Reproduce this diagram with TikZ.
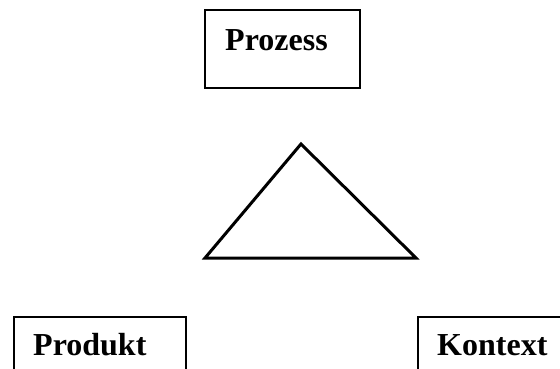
\documentclass[tikz,border=0pt]{standalone}
\usepackage{fontspec}
\setmainfont{Liberation Serif}
\begin{document}
\begin{tikzpicture}[x=1pt,y=-1pt,
  boxstyle/.style={draw,line width=2pt,inner sep=0pt,anchor=north west},
  lbl/.style={font=\fontsize{32}{36}\selectfont\bfseries,inner sep=0pt,anchor=base west}]
\useasboundingbox (0,0) rectangle (560,369);
\node[boxstyle,minimum width=155pt,minimum height=78pt] (prozessbox) at (204,9) {};
\node[lbl] (prozess) at (225,51) {Prozess};
\node[boxstyle,minimum width=172pt,minimum height=80pt] (produktbox) at (13,316) {};
\node[lbl] (produkt) at (33,355) {Produkt};
\node[boxstyle,minimum width=172pt,minimum height=80pt] (kontextbox) at (417,316) {};
\node[lbl] (kontext) at (437,355) {Kontext};
\coordinate (apex) at (301,144);
\coordinate (bl) at (205,258);
\coordinate (br) at (416,258);
\draw[line width=3pt,line join=miter] (apex) -- (br) -- (bl) -- cycle;
\end{tikzpicture}
\end{document}
